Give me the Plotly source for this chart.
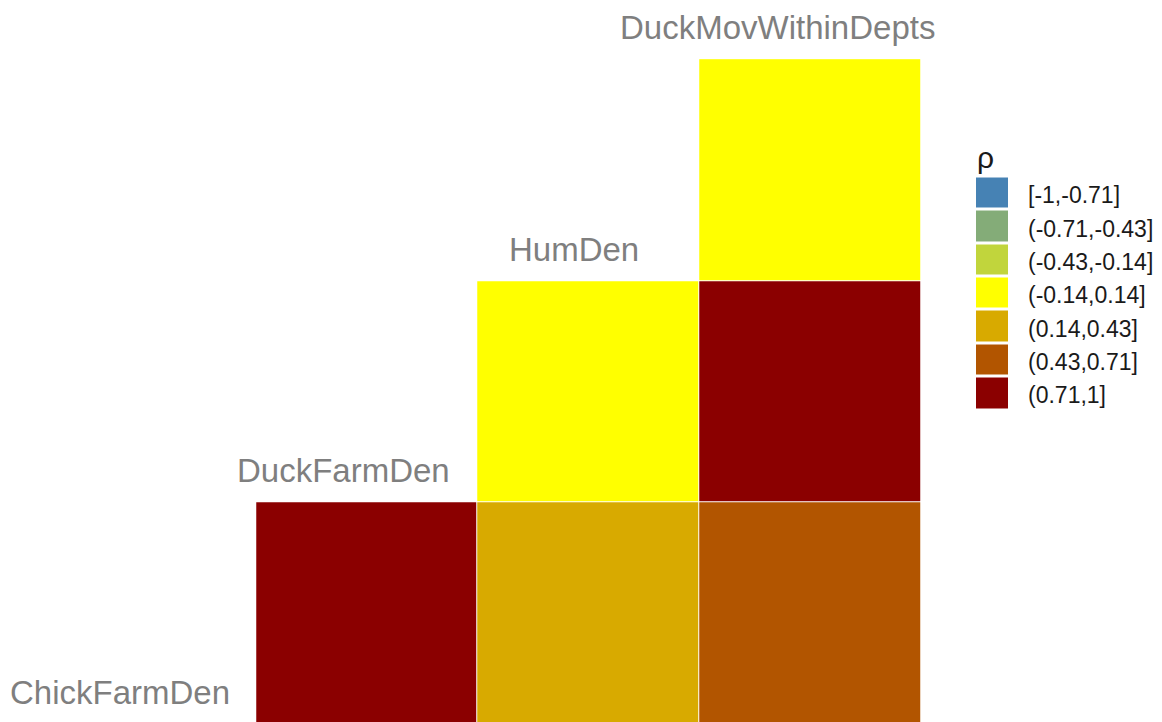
import plotly.graph_objects as go

# ---- data ----
variables = ["ChickFarmDen", "DuckFarmDen", "HumDen", "DuckMovWithinDepts"]
# pairwise correlations (x variable, y variable, rho) — read as bin membership
pair_x = ["DuckFarmDen", "HumDen", "DuckMovWithinDepts", "HumDen", "DuckMovWithinDepts", "DuckMovWithinDepts"]
pair_y = ["ChickFarmDen", "ChickFarmDen", "ChickFarmDen", "DuckFarmDen", "DuckFarmDen", "HumDen"]
rho = [0.85, 0.30, 0.60, 0.05, 0.80, 0.00]
bin_breaks = [-1, -0.71, -0.43, -0.14, 0.14, 0.43, 0.71, 1]
bin_labels = ["[-1,-0.71]", "(-0.71,-0.43]", "(-0.43,-0.14]", "(-0.14,0.14]",
              "(0.14,0.43]", "(0.43,0.71]", "(0.71,1]"]
bin_colors = ["#4682B4", "#84AC78", "#C1D53C", "#FFFF00", "#D8AA00", "#B25500", "#8B0000"]

# ---- helpers ----
def bin_index(v):
    for k in range(len(bin_breaks) - 1):
        if v <= bin_breaks[k + 1]:
            return k
    return len(bin_breaks) - 2

n = len(variables)
xs = list(range(1, n + 1))
ys = list(range(1, n))
z = [[None for _ in xs] for _ in ys]
for a, b, r in zip(pair_x, pair_y, rho):
    xi = variables.index(a)
    yi = variables.index(b)
    z[yi][xi] = bin_index(r)

nb = len(bin_colors)
colorscale = []
for k, c in enumerate(bin_colors):
    colorscale.append([k / nb, c])
    colorscale.append([(k + 1) / nb, c])

fig = go.Figure()
fig.add_trace(go.Heatmap(
    x=xs, y=ys, z=z, colorscale=colorscale, zmin=-0.5, zmax=nb - 0.5,
    showscale=False, xgap=1, ygap=1, hoverongaps=False,
))

# legend as a small heatmap
fig.add_trace(go.Heatmap(
    x=[0], y=list(range(nb)), z=[[k] for k in range(nb)],
    colorscale=colorscale, zmin=-0.5, zmax=nb - 0.5, showscale=False,
    xgap=0, ygap=3, xaxis="x2", yaxis="y2",
))

W, H = 1162, 722
fig.update_layout(
    width=W, height=H,
    margin=dict(l=0, r=0, t=0, b=0),
    paper_bgcolor="white", plot_bgcolor="white",
    showlegend=False,
    xaxis=dict(range=[0.3455, 5.587], visible=False, domain=[0, 1]),
    yaxis=dict(range=[0.5106, 3.767], visible=False, domain=[0, 1]),
    xaxis2=dict(range=[-0.5, 0.5], visible=False, domain=[976 / W, 1008 / W], anchor="y2"),
    yaxis2=dict(range=[nb - 0.5, -0.5], visible=False,
                domain=[1 - 410 / H, 1 - 176.5 / H], anchor="x2"),
    font=dict(family="Liberation Sans, Arial, sans-serif"),
)

# variable labels along the diagonal
label_dx = [-0.113, -0.105, -0.067, -0.148]
for i, (v, dx) in enumerate(zip(variables, label_dx), start=1):
    fig.add_annotation(
        x=i + dx, y=i - 0.357, xref="x", yref="y", text=v, showarrow=False,
        xanchor="center", yanchor="middle",
        font=dict(size=33, color="#7F7F7F", family="Liberation Sans, Arial, sans-serif"),
    )

# legend labels
for k, lab in enumerate(bin_labels):
    fig.add_annotation(
        x=1026 / W, y=k, xref="paper", yref="y2", text=lab, showarrow=False,
        xanchor="left", yanchor="middle", yshift=-2,
        font=dict(size=23, color="#1A1A1A", family="Liberation Sans, Arial, sans-serif"),
    )
fig.add_annotation(
    x=975 / W, y=1 - 157 / H, xref="paper", yref="paper", text="ρ", showarrow=False,
    xanchor="left", yanchor="middle",
    font=dict(size=30, color="#1A1A1A", family="Liberation Sans, Arial, sans-serif"),
)

fig.write_html("out.html",
               config={"displayModeBar": False},
               post_script="document.body.style.margin='0';document.body.style.overflow='hidden';")
